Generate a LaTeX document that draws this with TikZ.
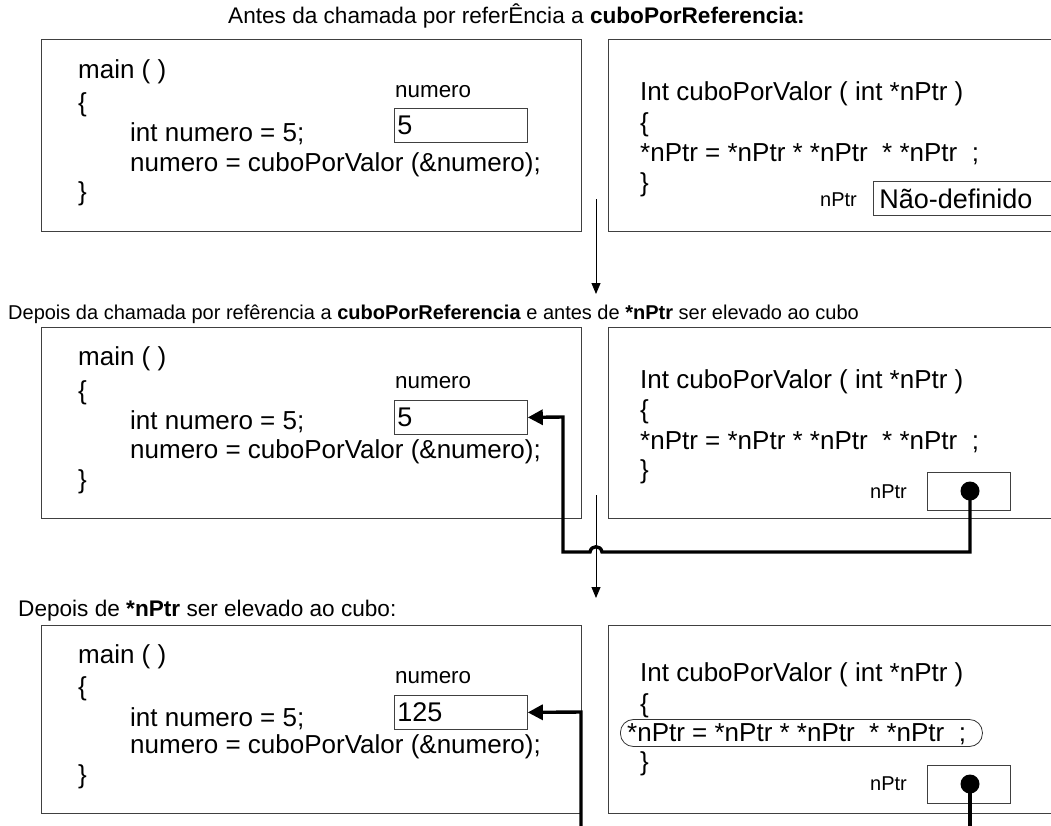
\documentclass[tikz,border=0pt]{standalone}
\usepackage{fontspec}
\setmainfont{Liberation Sans}
\usetikzlibrary{arrows.meta}
\newcommand\codesize{\fontsize{26}{30}\selectfont}
\newcommand\valsize{\fontsize{27}{31}\selectfont}
\newcommand\lblsize{\fontsize{20}{24}\selectfont}
\newcommand\varsize{\fontsize{22.4}{26}\selectfont}
\newcommand\ttlsize{\fontsize{20}{24}\selectfont}
\newcommand\bigttlsize{\fontsize{22.6}{26}\selectfont}
\begin{document}
\begin{tikzpicture}[x=1pt,y=-1pt,
  panel/.style={draw=black!75, line width=0.9pt, rectangle, inner sep=0, anchor=north west},
  code/.style={anchor=base west, inner sep=0, font=\codesize},
  lbl/.style={anchor=base west, inner sep=0, font=\lblsize},
  var/.style={anchor=base west, inner sep=0, font=\varsize},
  ttl/.style={anchor=base west, inner sep=0, font=\ttlsize},
  bigttl/.style={anchor=base west, inner sep=0, font=\bigttlsize},
  cell/.style={draw=black!75, line width=0.8pt, rectangle, anchor=north west,
    inner xsep=3pt, inner ysep=0pt, text width=127pt, align=left,
    minimum height=34pt, font=\valsize},
  ptrcell/.style={draw=black!75, line width=0.8pt, rectangle, anchor=north west,
    inner sep=0pt, minimum width=83pt, minimum height=38pt},
  dot/.style={circle, fill=black, inner sep=0pt, minimum size=19pt},
  link/.style={line width=3.4pt, -{Triangle[length=15pt,width=15pt]}},
  linkplain/.style={line width=3.4pt},
  step arrow/.style={line width=0.9pt, -{Triangle[length=11pt,width=9pt]}},
  focus/.style={draw=black!80, line width=0.8pt, rounded corners=13pt, inner sep=0pt,
    minimum width=362pt, minimum height=27pt, anchor=west}
]
\useasboundingbox (0,0) rectangle (1051,825);

% ---------- state 1: before the call ----------
\node[bigttl] (t1) at (228,23) {Antes da chamada por referÊncia a \textbf{cuboPorReferencia:}};
\node[panel, minimum width=540pt, minimum height=192pt] (m1) at (41,39) {};
\node[panel, minimum width=470pt, minimum height=192pt] (f1) at (608,39) {};

\node[code] (m1a) at (78,78)  {main ( )};
\node[code] (m1b) at (78,111) {\{};
\node[code] (m1c) at (130,141) {int numero = 5;};
\node[code] (m1d) at (130,171) {numero = cuboPorValor (\&numero);};
\node[code] (m1e) at (78,200) {\}};
\node[var]  (n1)  at (395,97) {numero};
\node[cell] (v1)  at (394,108) {5};

\node[code] (f1a) at (640,100) {Int cuboPorValor ( int *nPtr )};
\node[code] (f1b) at (640,131) {\{};
\node[code] (f1c) at (640,161) {*nPtr = *nPtr * *nPtr\ \ * *nPtr\ \ ;};
\node[code] (f1d) at (640,191) {\}};
\node[lbl]  (p1)  at (820,206) {nPtr};
\node[draw=black!75, line width=0.8pt, anchor=north west, inner xsep=6pt, inner ysep=0pt,
      text width=190pt, align=left, minimum height=34pt, font=\valsize] (u1) at (873,181) {Não-definido};

\coordinate (s1a) at (596,199);
\coordinate (s1b) at (596,294);
\draw[step arrow] (s1a) -- (s1b);

% ---------- state 2: after the call ----------
\node[ttl] (t2) at (8,319) {Depois da chamada por refêrencia a \textbf{cuboPorReferencia} e antes de \textbf{*nPtr} ser elevado ao cubo};
\node[panel, minimum width=540pt, minimum height=191pt] (m2) at (41,327) {};
\node[panel, minimum width=470pt, minimum height=191pt] (f2) at (608,327) {};

\node[code] (m2a) at (78,365)  {main ( )};
\node[code] (m2b) at (78,399) {\{};
\node[code] (m2c) at (130,429) {int numero = 5;};
\node[code] (m2d) at (130,458) {numero = cuboPorValor (\&numero);};
\node[code] (m2e) at (78,488) {\}};
\node[var]  (n2)  at (395,388) {numero};
\node[cell] (v2)  at (394,400) {5};

\node[code] (f2a) at (640,388) {Int cuboPorValor ( int *nPtr )};
\node[code] (f2b) at (640,418) {\{};
\node[code] (f2c) at (640,449) {*nPtr = *nPtr * *nPtr\ \ * *nPtr\ \ ;};
\node[code] (f2d) at (640,478) {\}};
\node[lbl]  (p2)  at (870,498) {nPtr};
\node[ptrcell] (c2) at (927,472) {};
\node[dot] (d2) at (970,491) {};

\coordinate (s2a) at (596,495);
\coordinate (s2b) at (596,598);
\draw[step arrow] (s2a) -- (s2b);

% pointer nPtr -> numero, hopping over the step arrow
\draw[link, line join=miter] (d2.center) -- (970,552) -- (602,552)
   .. controls (601,545) and (591,545) .. (590,552)
   -- (563,552) -- (563,417) -- (v2.east);

% ---------- state 3: after cubing ----------
\node[bigttl] (t3) at (18,616) {Depois de \textbf{*nPtr} ser elevado ao cubo:};
\node[panel, minimum width=540pt, minimum height=188pt] (m3) at (41,625) {};
\node[panel, minimum width=470pt, minimum height=188pt] (f3) at (608,625) {};

\node[code] (m3a) at (78,663)  {main ( )};
\node[code] (m3b) at (78,695) {\{};
\node[code] (m3c) at (130,726) {int numero = 5;};
\node[code] (m3d) at (130,753) {numero = cuboPorValor (\&numero);};
\node[code] (m3e) at (78,783) {\}};
\node[var]  (n3)  at (395,683) {numero};
\node[cell] (v3)  at (394,695) {125};

\node[code] (f3a) at (640,681) {Int cuboPorValor ( int *nPtr )};
\node[code] (f3b) at (640,712) {\{};
\node[code] (f3c) at (627,741) {*nPtr = *nPtr * *nPtr\ \ * *nPtr\ \ ;};
\node[focus] (o3) at (620,733) {};
\node[code] (f3d) at (640,770) {\}};
\node[lbl]  (p3)  at (870,790) {nPtr};
\node[ptrcell] (c3) at (927,765) {};
\node[dot] (d3) at (970,784) {};

\coordinate (e3a) at (970,835);
\coordinate (e3b) at (581,835);
\draw[linkplain] (d3.center) -- (e3a);
\draw[link, line join=miter] (e3b) -- (581,712) -- (v3.east);
\end{tikzpicture}
\end{document}
